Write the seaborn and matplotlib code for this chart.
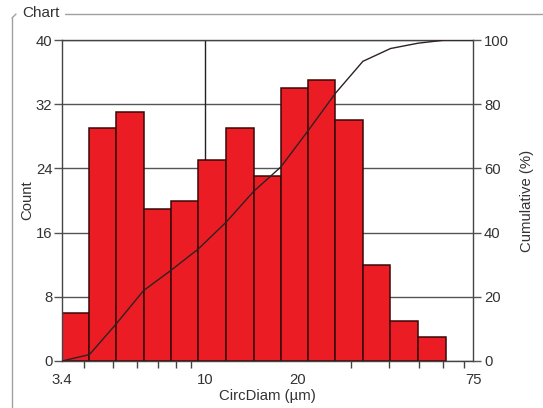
import numpy as np
import pandas as pd
import matplotlib
matplotlib.use("Agg")
import matplotlib.pyplot as plt
import seaborn as sns
from matplotlib.lines import Line2D

# ---- data ----
bin_edges = [3.4, 4.18, 5.12, 6.28, 7.72, 9.48, 11.68, 14.38, 17.66, 21.68, 26.62, 32.74, 40.3, 49.6, 61.0]
counts = [6, 29, 31, 19, 20, 25, 29, 23, 34, 35, 30, 12, 5, 3]
x_ticks = [3.4, 10, 20, 75]
x_ticklabels = ["3.4", "10", "20", "75"]
count_ticks = [0, 8, 16, 24, 32, 40]
cum_ticks = [0, 20, 40, 60, 80, 100]

sns.set_theme(style="white")
plt.rcParams["font.family"] = ["Liberation Sans", "DejaVu Sans"]
TXT = "#333333"
FS = 10.7

fig = plt.figure(figsize=(5.43, 4.08), dpi=100)
ax = fig.add_axes([62 / 543, 1 - 361 / 408, (473 - 62) / 543, (361 - 40) / 408])

edges = np.array(bin_edges)
centers = np.sqrt(edges[:-1] * edges[1:])
df = pd.DataFrame({"CircDiam": centers, "Count": counts})

# horizontal grid + vertical line at 10
for yv in count_ticks:
    ax.axhline(yv, color="#555555", lw=1.0, zorder=0.5)
ax.axvline(10, color="#222222", lw=1.0, zorder=0.5)

sns.histplot(data=df, x="CircDiam", weights="Count", bins=list(np.log10(edges)),
             log_scale=True, color="#ec1c24", edgecolor="#3a0808",
             linewidth=1.1, alpha=1, ax=ax, zorder=2)

ax.set_xlim(3.4, 75)
ax.set_ylim(0, 40)
ax.set_yticks(count_ticks)
ax.set_yticklabels([str(t) for t in count_ticks])
ax.set_xticks(x_ticks)
ax.set_xticklabels(x_ticklabels)
ax.set_xticks([4, 5, 6, 7, 8, 9, 10, 20, 30, 40, 50, 60, 70], minor=True)
ax.tick_params(axis="x", which="major", length=0, pad=9, labelsize=FS, colors=TXT)
ax.tick_params(axis="x", which="minor", length=5, width=1, color="#444444", direction="out", bottom=True)
ax.tick_params(axis="y", which="major", length=6, width=1, color="#555555", direction="out",
               left=True, labelsize=FS, colors=TXT, pad=1)
ax.tick_params(axis="y", labelcolor=TXT)
ax.tick_params(axis="x", labelcolor=TXT)
ax.set_xlabel("CircDiam (µm)", fontsize=FS, color=TXT, labelpad=1)
ax.set_ylabel("Count", fontsize=FS, color=TXT, labelpad=1)
for s in ["left", "bottom", "right", "top"]:
    ax.spines[s].set_visible(True)
    ax.spines[s].set_color("#444444")
    ax.spines[s].set_linewidth(1.0)
ax.grid(False)

# cumulative line
cum = np.concatenate([[0], np.cumsum(counts) / np.sum(counts) * 100, [100]])
cum_x = np.concatenate([edges, [75]])
ax2 = ax.twinx()
sns.lineplot(x=cum_x, y=cum, ax=ax2, color="#2e2222", lw=1.0, zorder=5)
ax2.set_ylim(0, 100)
ax2.set_yticks(cum_ticks)
ax2.set_yticklabels([str(t) for t in cum_ticks])
ax2.tick_params(axis="y", which="major", length=6, width=1, color="#555555", direction="out",
                right=True, labelsize=FS, labelcolor=TXT, pad=2)
ax2.set_ylabel("Cumulative (%)", fontsize=FS, color=TXT, labelpad=8)
ax2.grid(False)
for s in ["left", "bottom", "right", "top"]:
    ax2.spines[s].set_visible(False)

# group box frame "Chart"
fig.add_artist(Line2D([65 / 543, 1.0], [1 - 14 / 408, 1 - 14 / 408], color="#a0a0a0", lw=1.0))
fig.add_artist(Line2D([12 / 543, 12 / 543], [1 - 18 / 408, 0.0], color="#a0a0a0", lw=1.0))
fig.add_artist(Line2D([12 / 543, 16 / 543], [1 - 18 / 408, 1 - 14 / 408], color="#a0a0a0", lw=1.0))
fig.text(22 / 543, 1 - 13 / 408, "Chart", fontsize=11, color=TXT, va="center", ha="left")

fig.savefig("out.png", dpi=100)
